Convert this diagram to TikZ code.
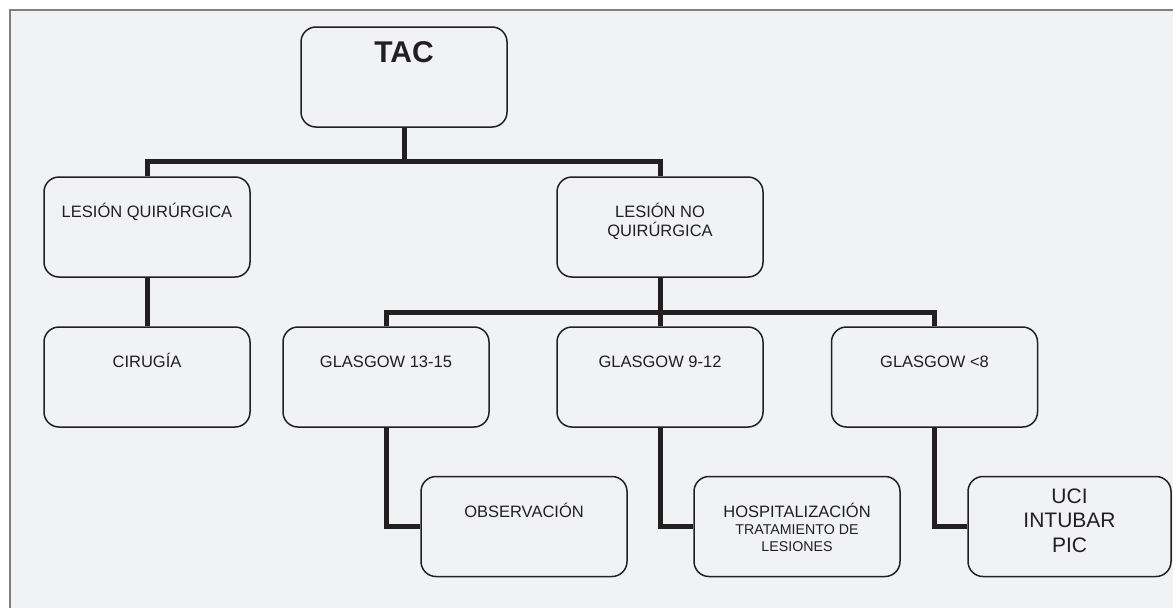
\documentclass[tikz,border=0pt]{standalone}
\usepackage{fontspec}
\setmainfont{Liberation Sans}
\definecolor{ink}{HTML}{231F20}
\definecolor{bgc}{HTML}{F1F2F4}
\definecolor{framec}{HTML}{7F7F7F}
\begin{document}
\begin{tikzpicture}[x=1pt,y=-1pt,
  box/.style={draw=ink,line width=1.5pt,rounded corners=15pt,minimum width=206pt,minimum height=100pt,inner sep=0pt},
  lbl/.style={text=ink,font=\fontsize{16.5}{19}\selectfont,align=center,inner sep=0pt,anchor=base},
  conn/.style={draw=ink,line width=5pt,line join=miter}]
\useasboundingbox (0,0) rectangle (1173,608);
\fill[white] (0,0) rectangle (1173,608);
\fill[bgc] (10,10) rectangle (1173,608);
\draw[framec,line width=1.5pt] (10,608) -- (10,10) -- (1173,10);

% boxes
\node[box] (tac) at (404,77) {};
\node[box] (lq)  at (147,227) {};
\node[box] (lnq) at (660,227) {};
\node[box] (cir) at (147,377) {};
\node[box] (g13) at (386,377) {};
\node[box] (g9)  at (660,377) {};
\node[box] (g8)  at (934.5,377) {};
\node[box] (obs) at (524,526.5) {};
\node[box] (hosp) at (797,526.5) {};
\node[box,minimum width=203pt] (uci) at (1069.5,526.5) {};

% texts (multi-line texts are placed by the baseline of their last line)
\node[lbl,font=\fontsize{30}{34}\selectfont\bfseries] (ttac) at ([yshift=-36pt]tac.north) {TAC};
\node[lbl] (tlq) at ([yshift=-41pt]lq.north) {LESIÓN QUIRÚRGICA};
\node[lbl] (tlnq) at ([yshift=-60pt]lnq.north) {LESIÓN NO\\QUIRÚRGICA};
\node[lbl] (tcir) at ([yshift=-41pt]cir.north) {CIRUGÍA};
\node[lbl] (tg13) at ([yshift=-41.5pt]g13.north) {GLASGOW 13-15};
\node[lbl] (tg9) at ([yshift=-41.5pt]g9.north) {GLASGOW 9-12};
\node[lbl] (tg8) at ([yshift=-41.5pt]g8.north) {GLASGOW <8};
\node[lbl] (tobs) at ([yshift=-42pt]obs.north) {OBSERVACIÓN};
\node[lbl] (thosp) at ([yshift=-76pt]hosp.north) {HOSPITALIZACIÓN\\[-2pt]{\fontsize{14.2}{17}\selectfont TRATAMIENTO DE}\\[-2pt]{\fontsize{14.2}{17}\selectfont LESIONES}};
\node[lbl,font=\fontsize{21}{24.5}\selectfont] (tuci) at ([yshift=-76.5pt]uci.north) {UCI\\INTUBAR\\PIC};

% connectors
\draw[conn] (lq.north) -- ++(0,-15) coordinate (b1) -| (lnq.north);
\draw[conn] (tac.south) -- (tac.south |- b1);
\draw[conn] (lq.south) -- (cir.north);
\draw[conn] (g13.north) -- ++(0,-14) coordinate (b2) -| (g8.north);
\draw[conn] (lnq.south) -- (lnq.south |- b2);
\draw[conn] (g9.north) -- (g9.north |- b2);
\draw[conn] (g13.south) |- (obs.west);
\draw[conn] (g9.south) |- (hosp.west);
\draw[conn] (g8.south) |- (uci.west);
\end{tikzpicture}
\end{document}
